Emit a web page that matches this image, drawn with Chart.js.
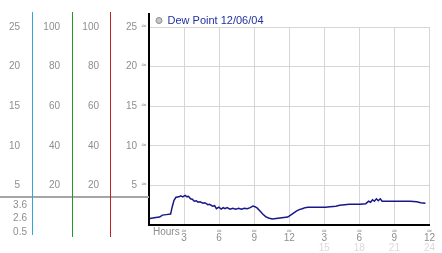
<!DOCTYPE html>
<html>
<head>
<meta charset="utf-8">
<script src="https://cdn.jsdelivr.net/npm/chart.js@4/dist/chart.umd.min.js"></script>
<style>
  html, body { margin: 0; padding: 0; background: #fff; }
  canvas { display: block; }
</style>
</head>
<body>
<canvas id="chart" width="442" height="253"></canvas>
<script>
const seriesLabel = 'Dew Point 12/06/04'

// hours since midnight, dew point
const hours = [
  0.08, 0.58, 0.91, 1.15, 1.48, 1.85, 1.98, 2.14, 2.31, 2.56,
  2.72, 2.89, 3.09, 3.26, 3.38, 3.55, 3.71, 3.87, 4.04, 4.2,
  4.37, 4.62, 4.78, 5.03, 5.19, 5.44, 5.61, 5.77, 5.98, 6.18,
  6.35, 6.51, 6.68, 6.93, 7.17, 7.42, 7.67, 7.91, 8.16, 8.41,
  8.66, 8.9, 9.07, 9.27, 9.48, 9.73, 9.98, 10.22, 10.55, 10.88,
  11.21, 11.54, 11.87, 12.12, 12.37, 12.61, 12.86, 13.11, 13.36, 13.6,
  14.1, 14.59, 15.09, 15.5, 15.99, 16.32, 16.74, 17.15, 17.56, 18.05,
  18.55, 18.8, 18.96, 19.13, 19.29, 19.46, 19.62, 19.79, 19.95, 20.69,
  21.52, 22.34, 22.92, 23.25, 23.66
]
const dewPoint = [
  0.81, 0.94, 1.0, 1.25, 1.31, 1.38, 2.25, 3.12, 3.5, 3.56,
  3.69, 3.56, 3.75, 3.56, 3.62, 3.31, 3.25, 3.0, 3.06, 2.88,
  2.94, 2.75, 2.81, 2.56, 2.62, 2.38, 2.44, 2.06, 2.25, 2.0,
  2.19, 2.06, 2.19, 2.0, 2.12, 2.0, 2.12, 2.0, 2.12, 2.06,
  2.19, 2.38, 2.31, 2.12, 1.81, 1.38, 1.06, 0.88, 0.75, 0.81,
  0.88, 0.94, 1.0, 1.25, 1.5, 1.75, 1.94, 2.06, 2.19, 2.25,
  2.25, 2.25, 2.25, 2.31, 2.38, 2.5, 2.56, 2.62, 2.62, 2.62,
  2.69, 3.0, 2.88, 3.19, 3.0, 3.31, 3.06, 3.31, 3.0, 3.0,
  3.0, 3.0, 2.94, 2.81, 2.75
]

const tempTicks = [5, 10, 15, 20, 25]
const pctTicks = [20, 40, 60, 80, 100]
const hourTicks = [3, 6, 9, 12, 15, 18, 21, 24]
const hourLabels = ['3', '6', '9', '12', '3', '6', '9', '12']
const hourLabels2 = ['', '', '', '', '15', '18', '21', '24']
const rainLabels = ['3.6', '2.6', '0.5']
const hoursTitle = 'Hours'

const tickFont = { family: '"Liberation Sans", Arial, sans-serif', size: 10 }
const tickColor = '#8e8e8e'

// colour and how far below the plot each left rule runs
const sideRules = {
  yCyan: ['#2fa8d8', 10],
  yGreen: ['#1f9a2a', 12],
  yRed: ['#c02020', 12]
}

function setTicks (values) {
  return scale => { scale.ticks = values.map(v => ({ value: v })) }
}

function setWidth (w) {
  return scale => { scale.width = w }
}

function sideAxis (max, ticks, width, weight, pad) {
  return {
    type: 'linear',
    position: 'left',
    min: 0,
    max: max,
    weight: weight,
    afterBuildTicks: setTicks(ticks),
    afterFit: setWidth(width),
    grid: { display: false, drawTicks: false },
    border: { display: false },
    ticks: { font: tickFont, color: tickColor, padding: pad }
  }
}

const decorations = {
  id: 'decorations',
  afterDraw (chart) {
    const { ctx, chartArea, scales } = chart
    const top = chartArea.top
    const bottom = chartArea.bottom
    ctx.save()

    // grey separator of the left panel
    ctx.fillStyle = '#a6a6a6'
    ctx.fillRect(0, bottom - 29, chartArea.left, 2)

    // the coloured rules run past the plot
    Object.keys(sideRules).forEach(id => {
      const [color, below] = sideRules[id]
      const x = Math.round(scales[id].right)
      ctx.fillStyle = color
      ctx.fillRect(x, top - 15, 1, bottom + below - top + 15)
    })

    ctx.fillStyle = '#000'
    ctx.fillRect(chartArea.left - 1, top - 14, 2, 14)

    ctx.font = '10px "Liberation Sans", Arial, sans-serif'
    ctx.fillStyle = tickColor
    ctx.textAlign = 'right'
    ctx.textBaseline = 'middle'
    rainLabels.forEach((t, i) => {
      ctx.fillText(t, scales.yCyan.right - 5, bottom - 20 + i * 13.5)
    })

    ctx.textAlign = 'left'
    ctx.fillText(hoursTitle, chartArea.left + 4, bottom + 7)

    // tiny tick glyphs
    ctx.font = '7px "DejaVu Sans", sans-serif'
    ctx.fillStyle = '#a0a0a0'
    ctx.textAlign = 'center'
    scales.y.ticks.forEach(t => {
      ctx.fillText('≈', chartArea.left - 5, scales.y.getPixelForValue(t.value) - 1)
    })
    scales.x.ticks.forEach(t => {
      ctx.fillText('≈', scales.x.getPixelForValue(t.value), bottom + 6)
    })
    ctx.restore()
  }
}

const ctx = document.getElementById('chart').getContext('2d')
new Chart(ctx, {
  type: 'line',
  data: {
    datasets: [{
      label: seriesLabel,
      data: hours.map((h, i) => ({ x: h, y: dewPoint[i] })),
      borderColor: '#17178a',
      borderWidth: 1.5,
      pointRadius: 0,
      tension: 0,
      fill: false
    }]
  },
  options: {
    responsive: false,
    animation: false,
    devicePixelRatio: 1,
    layout: { padding: { top: 8, left: 0, right: 0, bottom: 0 } },
    plugins: {
      tooltip: { enabled: false },
      legend: {
        position: 'top',
        align: 'start',
        fullSize: false,
        maxHeight: 19,
        labels: {
          usePointStyle: true,
          pointStyleWidth: 6,
          boxHeight: 4.243,
          padding: 7,
          color: '#2131a0',
          font: { family: '"Liberation Sans", Arial, sans-serif', size: 11 },
          generateLabels (chart) {
            return Chart.defaults.plugins.legend.labels.generateLabels(chart).map(item => {
              item.fillStyle = '#c6c6c6'
              item.strokeStyle = '#8c8c8c'
              item.lineWidth = 1
              item.pointStyle = 'circle'
              return item
            })
          }
        }
      }
    },
    scales: {
      x: {
        type: 'linear',
        min: 0,
        max: 24,
        weight: 0,
        afterBuildTicks: setTicks(hourTicks),
        afterFit: scale => { scale.height = 16 },
        grid: { color: '#d6d6d6', drawTicks: false },
        border: { color: '#000', width: 2 },
        ticks: {
          font: tickFont,
          color: tickColor,
          padding: 7,
          maxRotation: 0,
          autoSkip: false,
          callback: (v, i) => hourLabels[i]
        }
      },
      x2: {
        type: 'linear',
        position: 'bottom',
        min: 0,
        max: 24,
        weight: 1,
        afterBuildTicks: setTicks(hourTicks),
        afterFit: scale => { scale.height = 12 },
        grid: { display: false, drawTicks: false },
        border: { display: false },
        ticks: {
          font: tickFont,
          color: '#dadada',
          padding: 1,
          maxRotation: 0,
          autoSkip: false,
          callback: (v, i) => hourLabels2[i]
        }
      },
      y: {
        type: 'linear',
        position: 'left',
        min: 0,
        max: 25,
        weight: 0,
        afterBuildTicks: setTicks(tempTicks),
        afterFit: setWidth(39),
        grid: { color: '#d6d6d6', drawTicks: false },
        border: { color: '#000', width: 2 },
        ticks: { font: tickFont, color: tickColor, padding: 12 }
      },
      yRed: sideAxis(100, pctTicks, 38, 1, 11),
      yGreen: sideAxis(100, pctTicks, 40, 2, 12),
      yCyan: sideAxis(25, tempTicks, 32, 3, 12)
    }
  },
  plugins: [decorations]
})
</script>
</body>
</html>
